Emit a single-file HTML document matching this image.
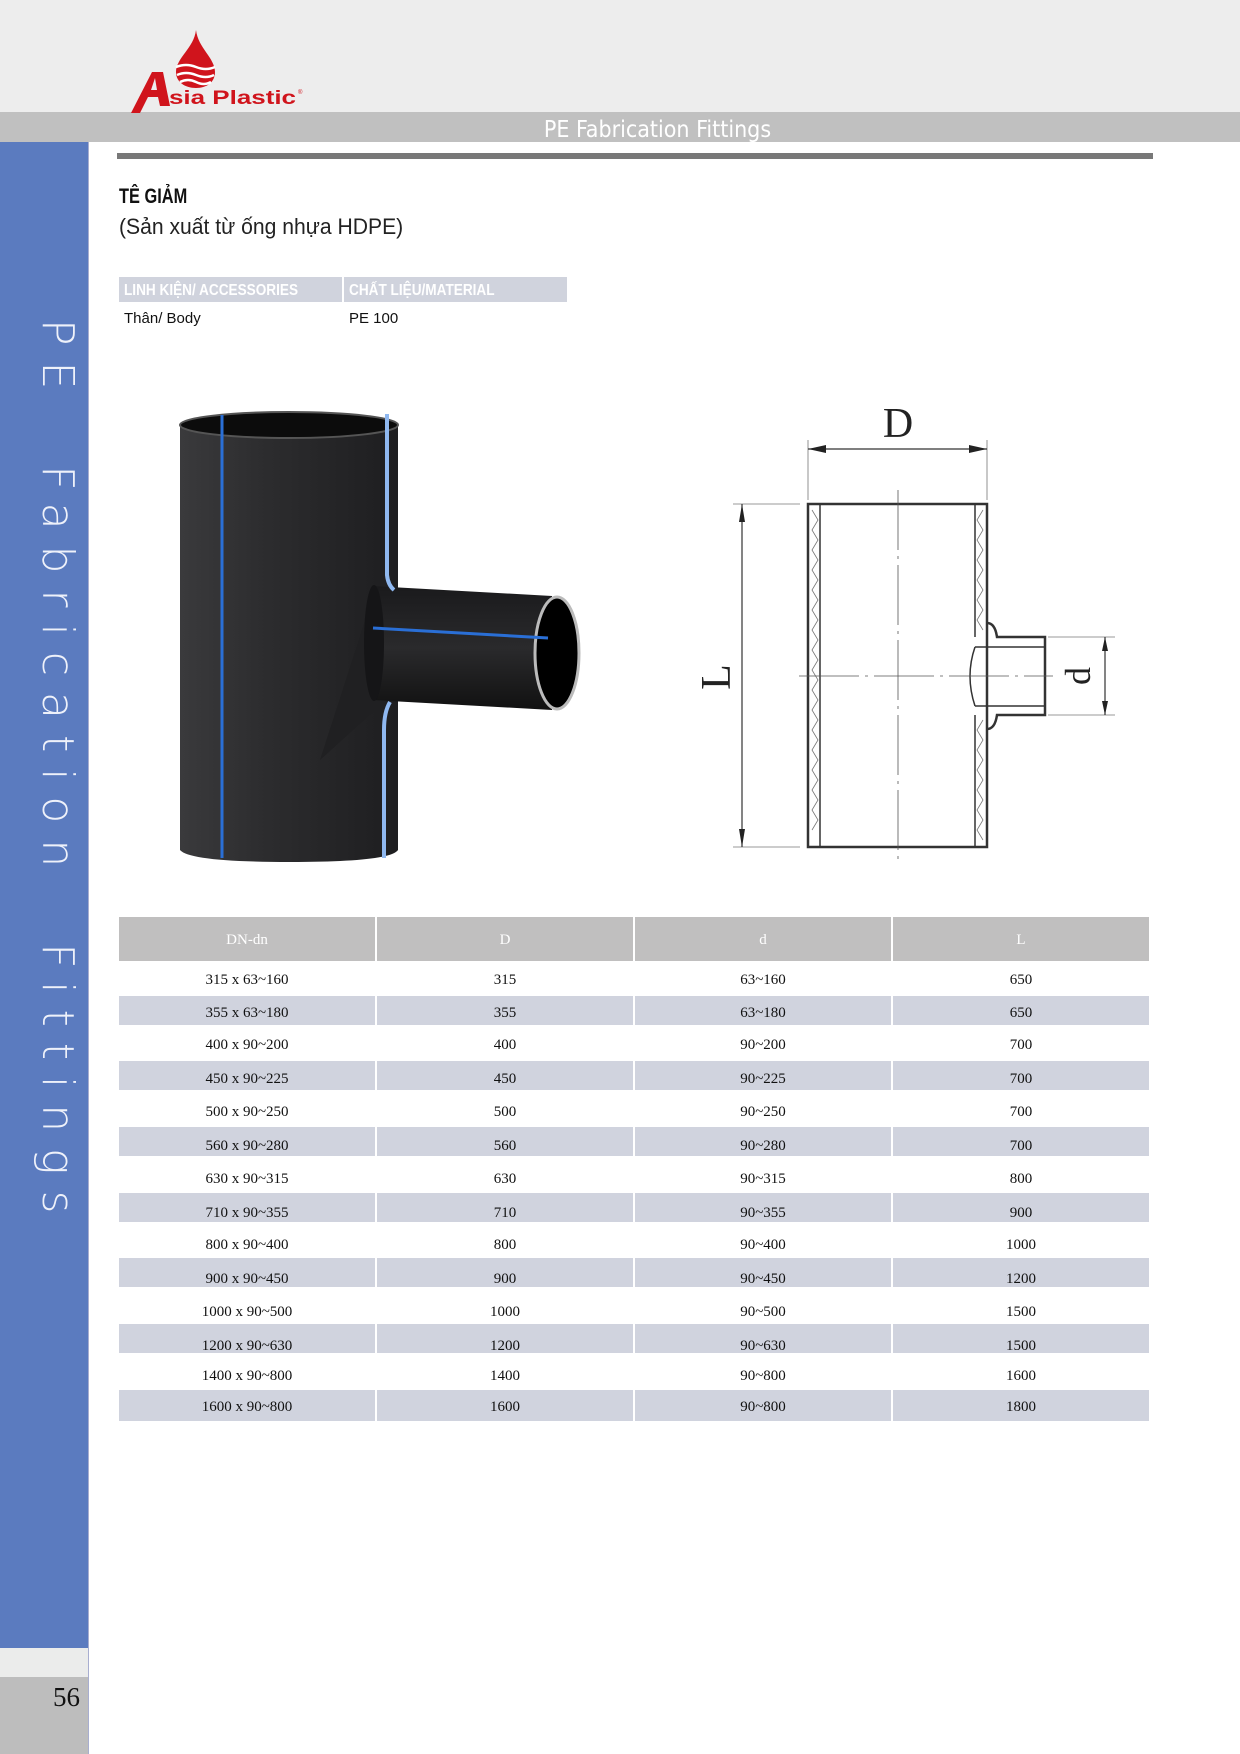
<!DOCTYPE html>
<html><head><meta charset="utf-8"><style>
*{margin:0;padding:0;box-sizing:border-box}
body{width:1240px;height:1754px;position:relative;background:#fff;font-family:"Liberation Sans",sans-serif;overflow:hidden}
.a{position:absolute}
.cell{position:absolute;text-align:center;font-family:"Liberation Serif",serif;font-size:15px;color:#111;margin-top:3px}
</style></head><body>
<div class="a" style="left:0;top:0;width:1240px;height:112px;background:#ededed"></div>
<div class="a" style="left:0;top:112px;width:1240px;height:30px;background:#c0c0c0"></div>
<div class="a" style="left:0;top:115px;width:1240px;height:30px;text-align:center;color:#fff;font-size:23px;line-height:30px;padding-left:75px;font-family:'DejaVu Sans Condensed','Liberation Sans Narrow',sans-serif">PE Fabrication Fittings</div>
<svg class="a" style="left:125px;top:25px" width="180" height="92" viewBox="125 25 180 92">
<path d="M196 30 C194 48 176 58 176 72 C176 82 185 88 196 88 C207 88 215 82 215 72 C215 58 198 48 196 30Z" fill="#d0141c"/>
<path d="M176 67 Q186 63 196 67 T215 67 M177 75 Q186 71 196 75 T214 75 M180 82 Q188 78 196 82 T211 82" stroke="#fff" stroke-width="2.5" fill="none"/>
<path d="M131 113 L152 72 L163 72 L170 106 L160 106 L158 97 L148 97 L140 113Z M151 90 L157 90 L155 78Z" fill="#d0141c" fill-rule="evenodd"/>
<text x="169" y="104" font-family="Liberation Sans" font-weight="bold" font-size="19" fill="#d0141c" textLength="127" lengthAdjust="spacingAndGlyphs">sia Plastic</text>
<text x="298" y="94" font-size="6" fill="#d0141c">®</text>
</svg>
<div class="a" style="left:0;top:142px;width:88px;height:1506px;background:#5b7bbf"></div>
<div class="a" style="left:0;top:1648px;width:88px;height:29px;background:#ebeceb"></div>
<div class="a" style="left:0;top:1677px;width:88px;height:77px;background:#bdbdbd"></div>
<div class="a" style="left:88px;top:142px;width:1px;height:1612px;background:#a8aed0"></div>
<div class="a" style="left:30px;top:1682px;width:50px;text-align:right;font-family:'Liberation Serif',serif;font-size:27px;color:#111">56</div>
<div class="a" style="left:32px;top:319px;height:900px;writing-mode:vertical-rl;color:#eef1fa;font-size:44px;letter-spacing:16px;font-family:'DejaVu Sans','Liberation Sans',sans-serif;font-weight:200;white-space:pre">PE  Fabrication  Fittings</div>
<div class="a" style="left:117px;top:153px;width:1036px;height:6px;background:#787878"></div>
<div class="a" style="left:119px;top:185px;font-size:21px;font-weight:bold;font-family:'Liberation Sans Narrow','Liberation Sans',sans-serif;color:#111;transform:scaleX(0.78);transform-origin:left">TÊ GIẢM</div>
<div class="a" style="left:119px;top:214px;font-size:22px;color:#222;font-family:'Liberation Sans Narrow','Liberation Sans',sans-serif;transform:scaleX(0.96);transform-origin:left">(Sản xuất từ ống nhựa HDPE)</div>
<div class="a" style="left:119px;top:277px;width:223px;height:25px;background:#d0d3dd"></div>
<div class="a" style="left:344px;top:277px;width:223px;height:25px;background:#d0d3dd"></div>
<div class="a" style="left:124px;top:277px;color:#fff;font-size:16px;font-weight:bold;line-height:27px;font-family:'Liberation Sans Narrow','Liberation Sans',sans-serif;transform:scaleX(0.85);transform-origin:left;white-space:nowrap">LINH KIỆN/ ACCESSORIES</div>
<div class="a" style="left:349px;top:277px;color:#fff;font-size:16px;font-weight:bold;line-height:27px;font-family:'Liberation Sans Narrow','Liberation Sans',sans-serif;transform:scaleX(0.85);transform-origin:left;white-space:nowrap">CHẤT LIỆU/MATERIAL</div>
<div class="a" style="left:124px;top:310px;font-size:15px;color:#111">Thân/ Body</div>
<div class="a" style="left:349px;top:310px;font-size:15px;color:#111">PE 100</div>
<svg class="a" style="left:0;top:0" width="1240" height="900">
<defs>
<linearGradient id="g1" x1="0" x2="1"><stop offset="0" stop-color="#3a3a3c"/><stop offset="0.4" stop-color="#2c2c2e"/><stop offset="1" stop-color="#1e1e20"/></linearGradient>
<linearGradient id="g2" x1="0" y1="0" x2="0" y2="1"><stop offset="0" stop-color="#1a1a1c"/><stop offset="0.5" stop-color="#2a2a2c"/><stop offset="1" stop-color="#111"/></linearGradient>
</defs>
<path d="M180 425 L180 850 Q190 862 290 862 Q390 862 398 850 L398 425Z" fill="url(#g1)"/>
<ellipse cx="289" cy="425" rx="109" ry="13" fill="#0c0c0c" stroke="#555" stroke-width="2"/>
<path d="M375 580 L385 590 L385 700 L375 710 L320 760 L375 590Z" fill="#202022"/>
<path d="M372 586 L552 596 L552 710 L372 700Z" fill="url(#g2)"/>
<ellipse cx="374" cy="643" rx="10" ry="58" fill="#151517"/>
<ellipse cx="557" cy="653" rx="22" ry="56" fill="#000" stroke="#bbb" stroke-width="3"/>
<path d="M373 628 L548 638" stroke="#2a6fd6" stroke-width="3"/>
<path d="M222 415 L222 858" stroke="#2a6fd6" stroke-width="3"/>
<path d="M387 414 L387 575 Q388 585 394 590" stroke="#8fb8f0" stroke-width="4" fill="none"/>
<path d="M390 702 Q384 712 384 730 L384 858" stroke="#8fb8f0" stroke-width="4" fill="none"/>
<g stroke="#333" fill="none">
<rect x="808" y="504" width="179" height="343" stroke-width="2.5"/>
<path d="M820 504 L820 847 M975 504 L975 637 M975 715 L975 847" stroke-width="1.5"/>
<path d="M812 510 l6 10 l-6 10 l6 10 l-6 10 l6 10 l-6 10 l6 10 l-6 10 l6 10 l-6 10 l6 10 l-6 10 l6 10 l-6 10 l6 10 l-6 10 l6 10 l-6 10 l6 10 l-6 10 l6 10 l-6 10 l6 10 l-6 10 l6 10 l-6 10 l6 10 l-6 10 l6 10 l-6 10 l6 10 l-6 10" stroke-width="0.8" stroke="#777"/>
<path d="M983 510 l-6 10 l6 10 l-6 10 l6 10 l-6 10 l6 10 l-6 10 l6 10 l-6 10 l6 10 l-6 10 l6 10 M983 720 l-6 10 l6 10 l-6 10 l6 10 l-6 10 l6 10 l-6 10 l6 10 l-6 10 l6 10 l-6 10 l6 10" stroke-width="0.8" stroke="#777"/>
<path d="M987 623 Q995 623 997 637 L1045 637 L1045 715 L997 715 Q995 729 987 729" stroke-width="2.5"/>
<path d="M975 647 L1045 647 M975 706 L1045 706 M975 647 Q965 676 975 706" stroke-width="1.5"/>
<path d="M808 440 L808 500 M987 440 L987 500 M733 504 L800 504 M733 847 L800 847 M1048 637 L1115 637 M1048 715 L1115 715" stroke-width="0.8" stroke="#777"/>
<path d="M808 449 L987 449 M742 504 L742 847 M1105 637 L1105 715" stroke-width="1.2"/>
<path d="M898 490 L898 860 M799 676 L1053 676" stroke-width="0.8" stroke="#555" stroke-dasharray="60 6 3 6"/>
</g>
<g fill="#222">
<path d="M808 449 l18 -4 l0 8Z M987 449 l-18 -4 l0 8Z M742 504 l-3 18 l6 0Z M742 847 l-3 -18 l6 0Z M1105 637 l-3 14 l6 0Z M1105 715 l-3 -14 l6 0Z"/>
</g>
<text x="898" y="437" text-anchor="middle" font-family="Liberation Serif" font-size="42" fill="#222">D</text>
<text transform="translate(730 677) rotate(-90)" text-anchor="middle" font-family="Liberation Serif" font-size="42" fill="#222">L</text>
<text transform="translate(1090 676) rotate(-90)" text-anchor="middle" font-family="Liberation Serif" font-size="36" fill="#222">d</text>
</svg>
<div class="a" style="left:119px;top:917px;width:1030px;height:44px;background:#c0bfbf"></div>
<div class="a" style="left:119px;top:996px;width:1030px;height:29px;background:#d0d3de"></div>
<div class="a" style="left:119px;top:1061px;width:1030px;height:29px;background:#d0d3de"></div>
<div class="a" style="left:119px;top:1127px;width:1030px;height:29px;background:#d0d3de"></div>
<div class="a" style="left:119px;top:1193px;width:1030px;height:29px;background:#d0d3de"></div>
<div class="a" style="left:119px;top:1258px;width:1030px;height:29px;background:#d0d3de"></div>
<div class="a" style="left:119px;top:1324px;width:1030px;height:29px;background:#d0d3de"></div>
<div class="a" style="left:119px;top:1390px;width:1030px;height:31px;background:#d0d3de"></div>
<div class="a" style="left:375px;top:917px;width:2px;height:504px;background:#fff"></div>
<div class="a" style="left:633px;top:917px;width:2px;height:504px;background:#fff"></div>
<div class="a" style="left:891px;top:917px;width:2px;height:504px;background:#fff"></div>
<div class="cell" style="left:119px;top:929px;width:256px;color:#fff">DN-dn</div>
<div class="cell" style="left:377px;top:929px;width:256px;color:#fff">D</div>
<div class="cell" style="left:635px;top:929px;width:256px;color:#fff">d</div>
<div class="cell" style="left:893px;top:929px;width:256px;color:#fff">L</div>
<div class="cell" style="left:119px;top:969px;width:256px">315 x 63~160</div><div class="cell" style="left:377px;top:969px;width:256px">315</div><div class="cell" style="left:635px;top:969px;width:256px">63~160</div><div class="cell" style="left:893px;top:969px;width:256px">650</div>
<div class="cell" style="left:119px;top:1002px;width:256px">355 x 63~180</div><div class="cell" style="left:377px;top:1002px;width:256px">355</div><div class="cell" style="left:635px;top:1002px;width:256px">63~180</div><div class="cell" style="left:893px;top:1002px;width:256px">650</div>
<div class="cell" style="left:119px;top:1034px;width:256px">400 x 90~200</div><div class="cell" style="left:377px;top:1034px;width:256px">400</div><div class="cell" style="left:635px;top:1034px;width:256px">90~200</div><div class="cell" style="left:893px;top:1034px;width:256px">700</div>
<div class="cell" style="left:119px;top:1068px;width:256px">450 x 90~225</div><div class="cell" style="left:377px;top:1068px;width:256px">450</div><div class="cell" style="left:635px;top:1068px;width:256px">90~225</div><div class="cell" style="left:893px;top:1068px;width:256px">700</div>
<div class="cell" style="left:119px;top:1101px;width:256px">500 x 90~250</div><div class="cell" style="left:377px;top:1101px;width:256px">500</div><div class="cell" style="left:635px;top:1101px;width:256px">90~250</div><div class="cell" style="left:893px;top:1101px;width:256px">700</div>
<div class="cell" style="left:119px;top:1135px;width:256px">560 x 90~280</div><div class="cell" style="left:377px;top:1135px;width:256px">560</div><div class="cell" style="left:635px;top:1135px;width:256px">90~280</div><div class="cell" style="left:893px;top:1135px;width:256px">700</div>
<div class="cell" style="left:119px;top:1168px;width:256px">630 x 90~315</div><div class="cell" style="left:377px;top:1168px;width:256px">630</div><div class="cell" style="left:635px;top:1168px;width:256px">90~315</div><div class="cell" style="left:893px;top:1168px;width:256px">800</div>
<div class="cell" style="left:119px;top:1202px;width:256px">710 x 90~355</div><div class="cell" style="left:377px;top:1202px;width:256px">710</div><div class="cell" style="left:635px;top:1202px;width:256px">90~355</div><div class="cell" style="left:893px;top:1202px;width:256px">900</div>
<div class="cell" style="left:119px;top:1234px;width:256px">800 x 90~400</div><div class="cell" style="left:377px;top:1234px;width:256px">800</div><div class="cell" style="left:635px;top:1234px;width:256px">90~400</div><div class="cell" style="left:893px;top:1234px;width:256px">1000</div>
<div class="cell" style="left:119px;top:1268px;width:256px">900 x 90~450</div><div class="cell" style="left:377px;top:1268px;width:256px">900</div><div class="cell" style="left:635px;top:1268px;width:256px">90~450</div><div class="cell" style="left:893px;top:1268px;width:256px">1200</div>
<div class="cell" style="left:119px;top:1301px;width:256px">1000 x 90~500</div><div class="cell" style="left:377px;top:1301px;width:256px">1000</div><div class="cell" style="left:635px;top:1301px;width:256px">90~500</div><div class="cell" style="left:893px;top:1301px;width:256px">1500</div>
<div class="cell" style="left:119px;top:1335px;width:256px">1200 x 90~630</div><div class="cell" style="left:377px;top:1335px;width:256px">1200</div><div class="cell" style="left:635px;top:1335px;width:256px">90~630</div><div class="cell" style="left:893px;top:1335px;width:256px">1500</div>
<div class="cell" style="left:119px;top:1365px;width:256px">1400 x 90~800</div><div class="cell" style="left:377px;top:1365px;width:256px">1400</div><div class="cell" style="left:635px;top:1365px;width:256px">90~800</div><div class="cell" style="left:893px;top:1365px;width:256px">1600</div>
<div class="cell" style="left:119px;top:1396px;width:256px">1600 x 90~800</div><div class="cell" style="left:377px;top:1396px;width:256px">1600</div><div class="cell" style="left:635px;top:1396px;width:256px">90~800</div><div class="cell" style="left:893px;top:1396px;width:256px">1800</div>
</body></html>
